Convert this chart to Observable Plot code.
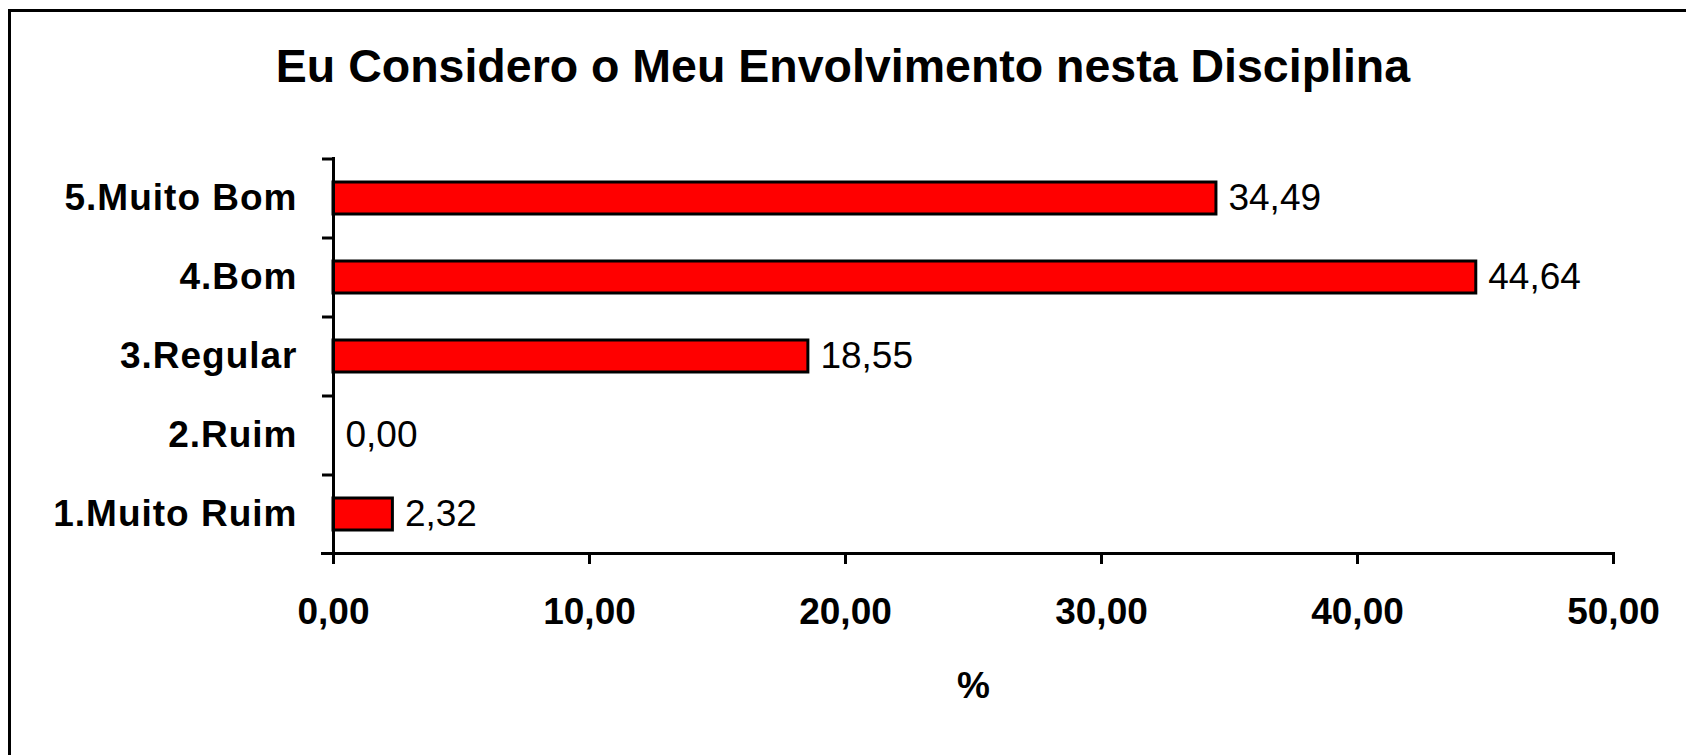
<!DOCTYPE html>
<html>
<head>
<meta charset="utf-8">
<script src="https://cdn.jsdelivr.net/npm/d3@7"></script>
<script src="https://cdn.jsdelivr.net/npm/@observablehq/plot@0.6"></script>
<style>
  html, body { margin: 0; padding: 0; background: #fff; }
  #wrap { position: relative; width: 1686px; height: 755px; overflow: hidden; background: #fff; }
  #border { position: absolute; left: 8px; top: 9px; width: 1720px; height: 800px;
            border-left: 3px solid #000; border-top: 3px solid #000; }
  #title { position: absolute; left: 0; top: 43px; width: 1686px; text-align: center;
           font: bold 46.5px "Liberation Sans", Arial, sans-serif; line-height: 46px; color: #000; }
  #chart { position: absolute; left: 0; top: 120px; }
  g[aria-label="y-axis tick label"] text { letter-spacing: 1px; }
</style>
</head>
<body>
<div id="wrap">
  <div id="border"></div>
  <div id="title"></div>
  <div id="chart"></div>
</div>
<script>
const titleText = "Eu Considero o Meu Envolvimento nesta Disciplina";
const categories = ["5.Muito Bom", "4.Bom", "3.Regular", "2.Ruim", "1.Muito Ruim"];
const values = [34.49, 44.64, 18.55, 0.00, 2.32];
const xTicks = [0, 10, 20, 30, 40, 50];
const xLabel = "%";

const data = categories.map((c, i) => ({cat: c, value: values[i]}));
const fmt = v => d3.format(".2f")(v).replace(".", ",");

document.getElementById("title").textContent = titleText;

const W = 1686, H = 635, mT = 38, mB = 202, mL = 333, mR = 73;
const halfStep = (H - mT - mB) / categories.length / 2;

const chart = Plot.plot({
  width: W, height: H,
  marginTop: mT, marginBottom: mB, marginLeft: mL, marginRight: mR,
  style: {fontFamily: "'Liberation Sans', Arial, sans-serif", color: "#000", background: "transparent", overflow: "visible"},
  x: {domain: [0, 50]},
  y: {domain: categories, paddingInner: 0.6, paddingOuter: 0.3},
  marks: [
    Plot.barX(data, {x: "value", y: "cat", fill: "#ff0000", stroke: "#000", strokeWidth: 3}),
    Plot.text(data, {x: "value", y: "cat", text: d => fmt(d.value), textAnchor: "start", dx: 12, fontSize: 37, fill: "#000"}),
    Plot.axisY({tickSize: 0, tickPadding: 36, fontSize: 37, fontWeight: "bold", label: null}),
    Plot.axisY({tickSize: 11, text: null, dy: -halfStep, strokeWidth: 3, label: null}),
    Plot.frame({anchor: "left", strokeWidth: 3, stroke: "#000"}),
    Plot.frame({anchor: "bottom", strokeWidth: 3, stroke: "#000", insetLeft: -11}),
    Plot.axisX({ticks: xTicks, tickSize: 11, tickPadding: 33, tickFormat: fmt, fontSize: 37, fontWeight: "bold",
                strokeWidth: 3, label: xLabel, labelAnchor: "center", labelOffset: 144, labelArrow: "none", labelDx: 0})
  ]
});
document.getElementById("chart").appendChild(chart);
</script>
</body>
</html>
